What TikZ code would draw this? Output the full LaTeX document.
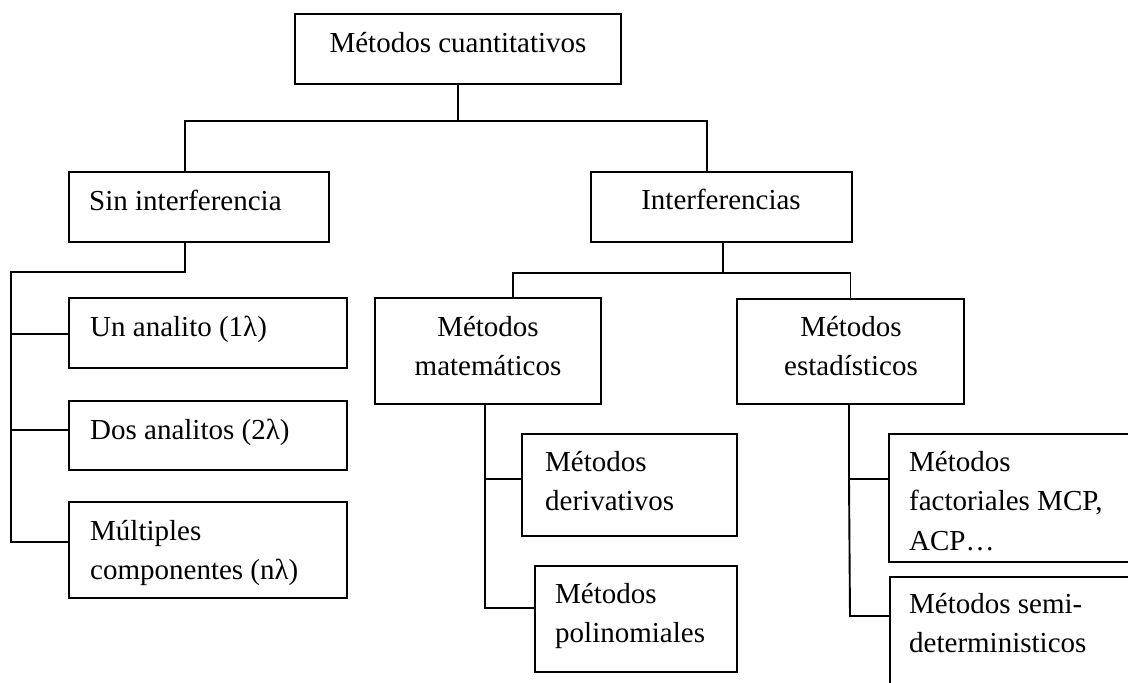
\documentclass[tikz,border=0pt]{standalone}
\usepackage{fontspec}
\setmainfont{Liberation Serif}
\usetikzlibrary{fit}
\begin{document}
\begin{tikzpicture}[x=1pt,y=-1pt,
  box/.style={draw, line width=1.9pt, inner sep=0pt, rectangle},
  link/.style={draw, line width=1.9pt},
  txt/.style={inner sep=0pt, font=\fontsize{29}{39.5}\selectfont, align=left},
  ctxt/.style={inner sep=0pt, font=\fontsize{29}{39.5}\selectfont, align=center}]
\useasboundingbox (0,0) rectangle (1128,683);
\clip (0,0) rectangle (1128,683);
% boxes
\node[box, fit={(295,14)(621,84)}] (top) {};
\node[box, fit={(69,172)(329,242)}] (sin) {};
\node[box, fit={(591,172)(852,242)}] (int) {};
\node[box, fit={(69,298)(347,368)}] (un) {};
\node[box, fit={(69,401)(347,470)}] (dos) {};
\node[box, fit={(69,502)(347,598)}] (mul) {};
\node[box, fit={(375,298)(601,404)}] (mat) {};
\node[box, fit={(737,299)(964,404)}] (est) {};
\node[box, fit={(522,434)(737,536)}] (der) {};
\node[box, fit={(535,566)(737,672)}] (pol) {};
\node[box, fit={(889,434)(1140,562)}] (fac) {};
\node[box, fit={(890,577)(1140,700)}] (semi) {};
% texts (base anchor = baseline of the last line)
\node[ctxt, anchor=base] (ttop) at (458,52) {Métodos cuantitativos};
\node[txt, anchor=base west] (tsin) at (89,210) {Sin interferencia};
\node[ctxt, anchor=base] (tint) at (721,209) {Interferencias};
\node[txt, anchor=base west] (tun) at (90,336) {Un analito (1λ)};
\node[txt, anchor=base west] (tdos) at (90,439) {Dos analitos (2λ)};
\node[txt, anchor=base west] (tmul) at (90,579.5) {Múltiples\\componentes (nλ)};
\node[ctxt, anchor=base] (tmat) at (488,375.5) {Métodos\\matemáticos};
\node[ctxt, anchor=base] (test) at (851,375.5) {Métodos\\estadísticos};
\node[txt, anchor=base west] (tder) at (545,510.5) {Métodos\\derivativos};
\node[txt, anchor=base west] (tpol) at (555,642.5) {Métodos\\polinomiales};
\node[txt, anchor=base west] (tfac) at (909,550) {Métodos\\factoriales MCP,\\ACP…};
\node[txt, anchor=base west] (tsemi) at (909,652.5) {Métodos semi-\\deterministicos};
% connectors
\draw[link] (top.south) -- ++(0,36) -| ([xshift=-14pt]sin.north);
\draw[link] (top.south) -- ++(0,36) -| ([xshift=-14.5pt]int.north);
\coordinate (sj) at (11,272);
\coordinate (bun) at (11,334);
\coordinate (bdos) at (11,430);
\coordinate (bmul) at (11,542);
\draw[link] ([xshift=-14pt]sin.south) |- (sj) -- (bmul) -- (bmul -| mul.west);
\draw[link] (bun) -- (bun -| un.west);
\draw[link] (bdos) -- (bdos -| dos.west);
\draw[link] ([xshift=1.5pt]int.south) -- ++(0,30) coordinate (ij);
\draw[link] (ij) -| ([xshift=25pt]mat.north);
\draw[link] (ij) -| (est.north);
\coordinate (bder) at (485,479);
\coordinate (bpol) at (485,608);
\draw[link] ([xshift=-3pt]mat.south) -- (bpol) -- (bpol -| pol.west);
\draw[link] (bder) -- (bder -| der.west);
\coordinate (bfac) at (849,479);
\coordinate (bsemi) at (850,616);
\draw[link] ([xshift=-1.5pt]est.south) -- (bfac) -- (bsemi) -- (bsemi -| semi.west);
\draw[link] (bfac) -- (bfac -| fac.west);
\end{tikzpicture}
\end{document}
